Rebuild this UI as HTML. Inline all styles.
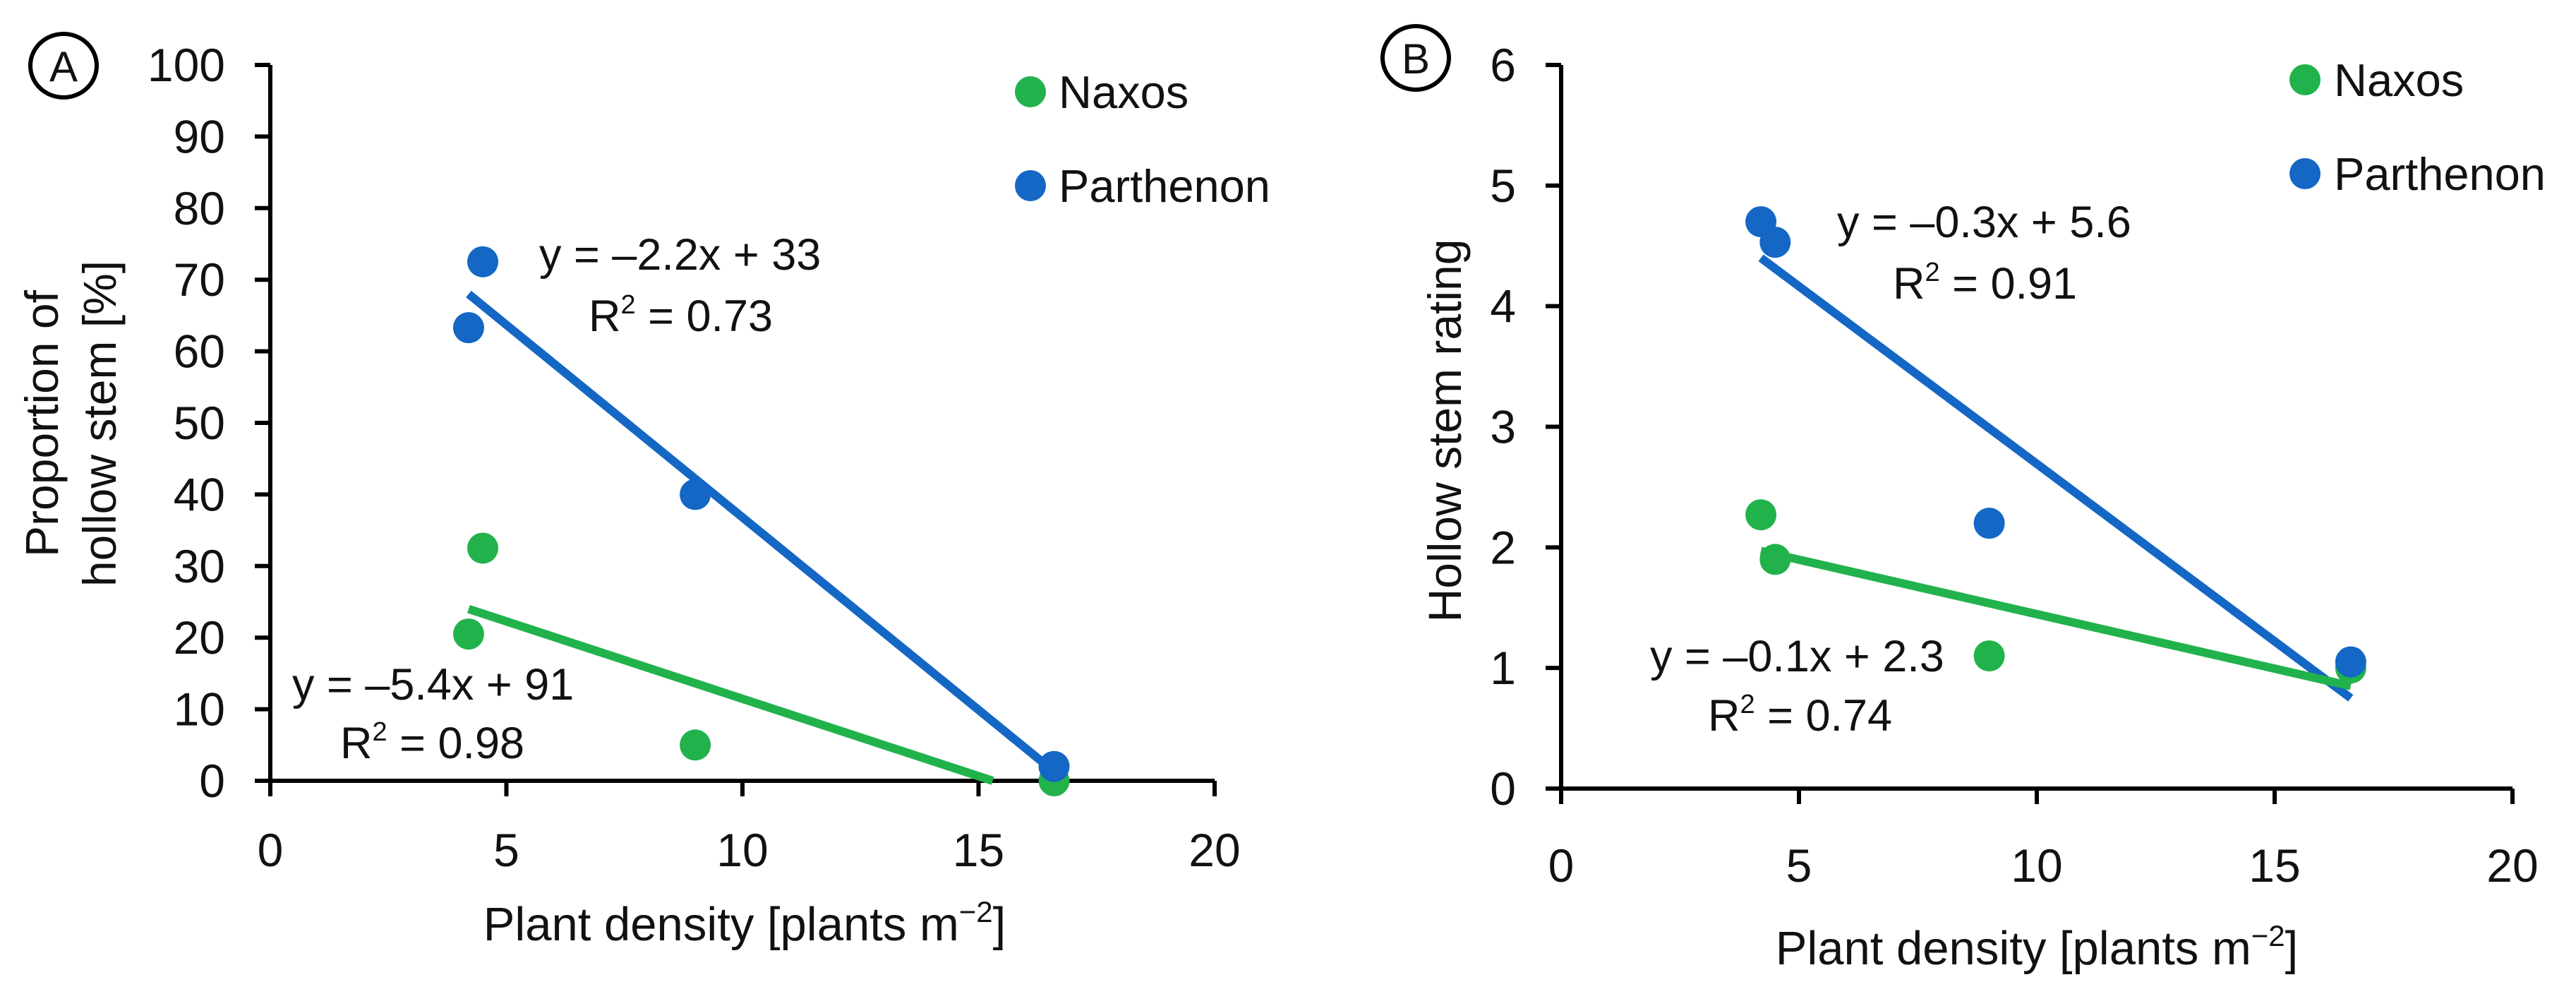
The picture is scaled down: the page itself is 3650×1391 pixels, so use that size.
<!DOCTYPE html>
<html><head><meta charset="utf-8"><style>
html,body{margin:0;padding:0;background:#fff}
svg text{font-family:"Liberation Sans",sans-serif;fill:#111}
</style></head><body>
<svg id="fig" width="3650" height="1386" viewBox="0 0 3650 1386" xmlns="http://www.w3.org/2000/svg"></svg>
<script>
const xTicks=[0,5,10,15,20];
const aYTicks=[0,10,20,30,40,50,60,70,80,90,100];
const bYTicks=[0,1,2,3,4,5,6];
const densityX=[4.2,4.5,9,16.6];
const aNaxos=[20.5,32.5,5,0];
const aParthenon=[63.3,72.5,40,2];
const bNaxos=[2.27,1.9,1.1,1.0];
const bParthenon=[4.7,4.53,2.2,1.05];
const aTrendX=[4.2,16.6];
const aNaxosTrendX=[4.2,15.3];
const aNaxosTrend=[24,0];
const aParthTrend=[68,1.3];
const bTrendX=[4.2,16.6];
const bNaxosTrend=[1.97,0.85];
const bParthTrend=[4.4,0.75];
const GREEN="#22b24c",BLUE="#1467c4";
const NS="http://www.w3.org/2000/svg";
const svg=document.getElementById('fig');
function mk(tag,attrs,parent){const e=document.createElementNS(NS,tag);for(const k in attrs)e.setAttribute(k,attrs[k]);(parent||svg).appendChild(e);return e;}
function panel(p){
  const g=mk('g',{});
  
  
  const sx=v=>p.x0+(v-0)/(20-0)*(p.x1-p.x0);
  const sy=v=>p.y0-(v-0)/p.ymax*(p.y0-p.y1);
  const ax=mk('line',{x1:p.x0,y1:p.y0,x2:p.x1,y2:p.y0,stroke:'#000','stroke-width':6},g);
  
  
  const ay=mk('line',{x1:p.x0,y1:p.y0,x2:p.x0,y2:p.y1,stroke:'#000','stroke-width':6},g);
  
  
  xTicks.forEach(t=>{
    mk('line',{x1:sx(t),y1:p.y0,x2:sx(t),y2:p.y0+22,stroke:'#000','stroke-width':6},g);
    const tx=mk('text',{x:sx(t),y:p.y0+p.xlOff,'text-anchor':'middle','font-size':66},g);
    tx.textContent=t;
    
    
  });
  p.yTicks.forEach(t=>{
    mk('line',{x1:p.x0-22,y1:sy(t),x2:p.x0,y2:sy(t),stroke:'#000','stroke-width':6},g);
    const tx=mk('text',{x:p.x0-64,y:sy(t)+23,'text-anchor':'end','font-size':66},g);
    tx.textContent=t;
    
    
  });
  const tl1=mk('line',{x1:sx(p.pTX[0]),y1:sy(p.pT[0]),x2:sx(p.pTX[1]),y2:sy(p.pT[1]),stroke:BLUE,'stroke-width':12},g);
  
  
  const tl2=mk('line',{x1:sx(p.nTX[0]),y1:sy(p.nT[0]),x2:sx(p.nTX[1]),y2:sy(p.nT[1]),stroke:GREEN,'stroke-width':12},g);
  
  
  densityX.forEach((x,i)=>{
    const c=mk('circle',{cx:sx(x),cy:sy(p.naxos[i]),r:22,fill:GREEN},g);
    
    
  });
  densityX.forEach((x,i)=>{
    const c=mk('circle',{cx:sx(x),cy:sy(p.parth[i]),r:22,fill:BLUE},g);
    
    
  });
}
panel({id:'a',x0:383,x1:1721,y0:1106,y1:92,ymax:100,xlOff:121,yTicks:aYTicks,naxos:aNaxos,parth:aParthenon,pTX:aTrendX,pT:aParthTrend,nTX:aNaxosTrendX,nT:aNaxosTrend});
panel({id:'b',x0:2212,x1:3560,y0:1117,y1:92,ymax:6,xlOff:132,yTicks:bYTicks,naxos:bNaxos,parth:bParthenon,pTX:bTrendX,pT:bParthTrend,nTX:bTrendX,nT:bNaxosTrend});
</script>
<svg width="3650" height="1386" style="position:absolute;left:0;top:0" xmlns="http://www.w3.org/2000/svg">
<g><ellipse cx="90" cy="93" rx="47" ry="45" fill="none" stroke="#000" stroke-width="6"/><text x="90" y="115" text-anchor="middle" font-size="60">A</text></g>
<g><ellipse cx="2006" cy="82" rx="47" ry="45" fill="none" stroke="#000" stroke-width="6"/><text x="2006" y="104" text-anchor="middle" font-size="60">B</text></g>
<text transform="translate(82,600) rotate(-90)" text-anchor="middle" font-size="66">Proportion of</text>
<text transform="translate(164,600) rotate(-90)" text-anchor="middle" font-size="66">hollow stem [%]</text>
<text transform="translate(2070,610) rotate(-90)" text-anchor="middle" font-size="66">Hollow stem rating</text>
<text x="1055" y="1332" text-anchor="middle" font-size="67">Plant density [plants m<tspan dy="-26" font-size="42">−2</tspan><tspan dy="26">]</tspan></text>
<text x="2886" y="1366" text-anchor="middle" font-size="67">Plant density [plants m<tspan dy="-26" font-size="42">−2</tspan><tspan dy="26">]</tspan></text>
<g><circle cx="1460" cy="130" r="22" fill="#22b24c"/><text x="1500" y="153" font-size="65">Naxos</text><circle cx="1460" cy="263" r="22" fill="#1467c4"/><text x="1500" y="286" font-size="65">Parthenon</text></g>
<g><circle cx="3266" cy="113" r="22" fill="#22b24c"/><text x="3307" y="136" font-size="65">Naxos</text><circle cx="3266" cy="246" r="22" fill="#1467c4"/><text x="3307" y="269" font-size="65">Parthenon</text></g>
<text x="764" y="382" font-size="63">y = –2.2x + 33</text>
<text x="834" y="469" font-size="63">R<tspan dy="-25" font-size="38">2</tspan><tspan dy="25"> = 0.73</tspan></text>
<text x="414" y="991" font-size="63">y = –5.4x + 91</text>
<text x="482" y="1074" font-size="63">R<tspan dy="-25" font-size="38">2</tspan><tspan dy="25"> = 0.98</tspan></text>
<text x="2603" y="336" font-size="63">y = –0.3x + 5.6</text>
<text x="2682" y="423" font-size="63">R<tspan dy="-25" font-size="38">2</tspan><tspan dy="25"> = 0.91</tspan></text>
<text x="2338" y="951" font-size="63">y = –0.1x + 2.3</text>
<text x="2420" y="1035" font-size="63">R<tspan dy="-25" font-size="38">2</tspan><tspan dy="25"> = 0.74</tspan></text>
</svg>
</body></html>
